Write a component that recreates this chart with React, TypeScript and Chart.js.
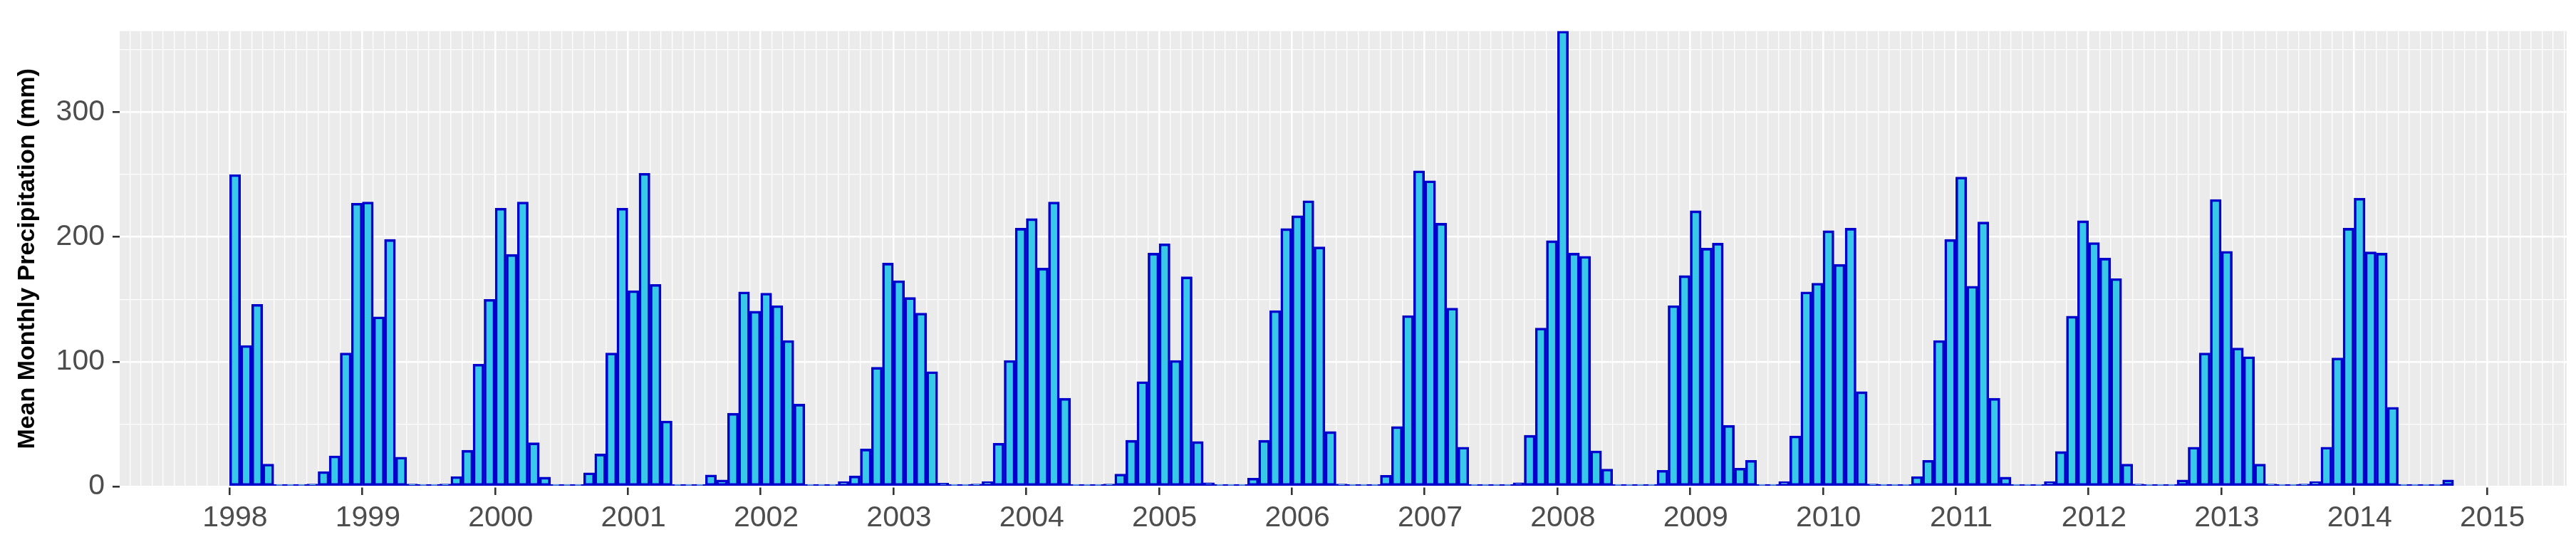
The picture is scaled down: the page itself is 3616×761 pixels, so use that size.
import React, { useEffect, useRef } from 'react';
import { Chart, registerables } from 'chart.js';

Chart.register(...registerables);

// Monthly mean precipitation (mm), Jan..Dec of each year
const startYear = 1998;
const p1998 = [250, 113, 146, 18, 1.5, 0.5, 0.5, 2, 12, 24.5, 107, 227];
const p1999 = [228, 136, 198, 23.5, 2, 0.5, 0.5, 2, 8, 29, 98, 150];
const p2000 = [223, 186, 228, 35, 7.5, 1, 0.5, 0.5, 11, 26, 107, 223];
const p2001 = [157, 251, 162, 52.5, 1.3, 0.5, 0.5, 9.3, 5.3, 58.7, 156, 140.5];
const p2002 = [155, 145, 117, 66, 1, 0.5, 0.5, 4, 8.5, 30, 95.5, 179];
const p2003 = [165, 151.5, 139, 92, 2.7, 0.5, 0.5, 2, 4, 34.7, 101, 207];
const p2004 = [214.7, 175, 228, 70.7, 1.5, 0.5, 0.5, 2, 10, 37, 84, 187];
const p2005 = [194.5, 101, 168, 36, 3, 0.5, 0.5, 1, 6.7, 37, 141, 206.7];
const p2006 = [217, 229, 192, 44, 2, 0.5, 0.5, 1, 9, 48, 137, 253];
const p2007 = [245, 211, 143, 31.5, 1, 0.5, 0.5, 0.5, 3, 41, 127, 197];
const p2008 = [365, 187, 184.5, 28.5, 14, 1, 0.5, 0.5, 1.3, 13, 145, 169];
const p2009 = [221, 191, 195, 49, 14.7, 21, 0.5, 0.5, 4, 40.5, 156, 163];
const p2010 = [205, 178, 207, 76, 2, 0.5, 0.5, 1, 8, 21, 117, 198];
const p2011 = [248, 160.5, 212, 70.7, 7.5, 0.5, 0.5, 1, 4, 28, 136.5, 213];
const p2012 = [195.5, 183, 166.7, 18, 2, 0.5, 0.5, 1.3, 5.3, 31.5, 107, 230];
const p2013 = [188.5, 111, 104, 18, 2, 0.5, 0.5, 2, 4, 31.5, 103, 207];
const p2014 = [231, 188, 187, 63.5, 1, 0.5, 0.5, 0.5, 5.3];

const yearlyValues = [
  p1998, p1999, p2000, p2001, p2002, p2003, p2004, p2005, p2006,
  p2007, p2008, p2009, p2010, p2011, p2012, p2013, p2014,
];

const yTicks = [0, 50, 100, 150, 200, 250, 300, 350];
const yLabelled = [0, 100, 200, 300];
const xMin = 1997.131;
const xMax = 2015.56;

const FONT = "'Liberation Sans', Arial, Helvetica, sans-serif";

const isYear = (v: number) => Math.abs(v - Math.round(v)) < 1e-6;
const tickVal = (c: any) => (c && c.tick ? Number(c.tick.value) : NaN);

export default function App() {
  const ref = useRef<HTMLCanvasElement>(null);

  useEffect(() => {
    if (!ref.current) return;
    const points: { x: number; y: number }[] = [];
    yearlyValues.forEach((arr, i) => {
      arr.forEach((v, m) => points.push({ x: startYear + i + m / 12, y: v }));
    });

    const monthTicks: number[] = [];
    for (let y = Math.floor(xMin); y <= Math.ceil(xMax); y++) {
      for (let m = 0; m < 12; m++) {
        const v = y + m / 12;
        if (v >= xMin && v <= xMax) monthTicks.push(v);
      }
    }

    const panelBg = {
      id: 'panelBg',
      beforeDraw(chart: any) {
        const { ctx, chartArea: a } = chart;
        ctx.save();
        ctx.fillStyle = '#EBEBEB';
        ctx.fillRect(a.left, a.top, a.right - a.left, a.bottom - a.top);
        ctx.restore();
      },
    };

    const chart = new Chart(ref.current, {
      type: 'bar',
      data: {
        datasets: [
          {
            data: points as any,
            backgroundColor: '#38C9EA',
            borderColor: '#0000CD',
            borderWidth: 3.6,
            borderSkipped: false,
            barPercentage: 1,
            categoryPercentage: 1,
            minBarLength: 3,
          } as any,
        ],
      },
      options: {
        animation: false,
        responsive: false,
        maintainAspectRatio: false,
        layout: { padding: { top: 4, right: 5, left: 0, bottom: 0 } },
        plugins: { legend: { display: false }, tooltip: { enabled: false } },
        scales: {
          x: {
            type: 'linear',
            min: xMin,
            max: xMax,
            offset: false,
            afterBuildTicks: (s: any) => {
              s.ticks = monthTicks.map((v) => ({ value: v }));
            },
            afterFit: (s: any) => {
              s.height = 70;
            },
            border: { display: false },
            grid: {
              color: '#FFFFFF',
              lineWidth: (c: any) => (isYear(tickVal(c)) ? 2.6 : 1.3),
              tickColor: (c: any) => (isYear(tickVal(c)) ? '#333333' : 'rgba(0,0,0,0)'),
              tickWidth: 2.6,
              tickLength: 12,
              drawTicks: true,
            },
            ticks: {
              autoSkip: false,
              maxRotation: 0,
              minRotation: 0,
              padding: 8,
              color: '#4D4D4D',
              font: { family: FONT, size: 41 },
              callback: (v: any) => (isYear(Number(v)) ? String(Math.round(Number(v))) : ''),
            },
          } as any,
          y: {
            type: 'linear',
            min: 0,
            max: 365,
            afterBuildTicks: (s: any) => {
              s.ticks = yTicks.map((v) => ({ value: v }));
            },
            afterFit: (s: any) => {
              s.width = 160;
            },
            border: { display: false },
            grid: {
              color: '#FFFFFF',
              lineWidth: (c: any) => (yLabelled.includes(tickVal(c)) ? 2.6 : 1.3),
              tickColor: (c: any) => (yLabelled.includes(tickVal(c)) ? '#333333' : 'rgba(0,0,0,0)'),
              tickWidth: 2.6,
              tickLength: 10,
              drawTicks: true,
            },
            ticks: {
              autoSkip: false,
              padding: 11,
              color: '#4D4D4D',
              font: { family: FONT, size: 41 },
              callback: (v: any) => (yLabelled.includes(Number(v)) ? String(v) : ''),
            },
            title: {
              display: true,
              text: 'Mean Monthly Precipitation (mm)',
              color: '#000000',
              font: { family: FONT, size: 34, weight: 'bold' },
              padding: { top: 10, bottom: 0 },
            },
          } as any,
        },
      },
      plugins: [panelBg],
    });
    return () => chart.destroy();
  }, []);

  return <canvas ref={ref} width={3600} height={745} style={{ display: 'block' }} />;
}
